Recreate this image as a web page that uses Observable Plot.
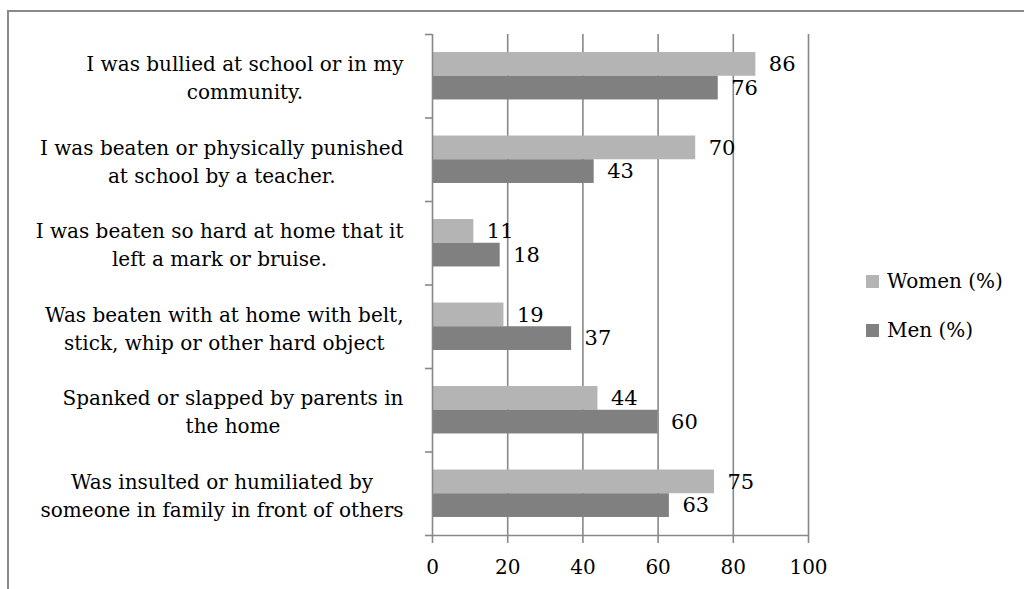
<!DOCTYPE html>
<html>
<head>
<meta charset="utf-8">
<script src="https://cdn.jsdelivr.net/npm/d3@7"></script>
<script src="https://cdn.jsdelivr.net/npm/@observablehq/plot@0.6"></script>
<style>
  html, body { margin: 0; padding: 0; background: #fff; }
  #wrap { position: relative; width: 1024px; height: 589px; overflow: hidden; font-family: 'DejaVu Serif', serif; }
  #frame { position: absolute; left: 7px; top: 10px; width: 1100px; height: 700px; border-left: 2px solid #8a8a8a; border-top: 2px solid #8a8a8a; pointer-events: none; }
  #legend { position: absolute; left: 866px; top: 0; font-size: 20px; color: #000; }
  .item { position: absolute; left: 0; white-space: nowrap; display: flex; align-items: center; }
  .sw { width: 13px; height: 13px; margin-right: 8px; display: inline-block; }
</style>
</head>
<body>
<div id="wrap">
  <div id="chart"></div>
  <div id="frame"></div>
  <div id="legend"></div>
</div>
<script>
const categories = [
  "I was bullied at school or in my\ncommunity.",
  "I was beaten or physically punished\nat school by a teacher.",
  "I was beaten so hard at home that it\nleft a mark or bruise.",
  "Was beaten with at home with belt,\nstick, whip or other hard object",
  "Spanked or slapped by parents in\nthe home",
  "Was insulted or humiliated by\nsomeone in family in front of others"
];
const women = [86, 70, 11, 19, 44, 75];
const men = [76, 43, 18, 37, 60, 63];
const seriesNames = ["Women (%)", "Men (%)"];
const seriesColors = ["#b4b4b4", "#808080"];
const xTicks = [0, 20, 40, 60, 80, 100];

const GRID = "#888888";
const BAR = 0.284;           // bar thickness as fraction of a category band
const FONT = "'DejaVu Serif', serif";

const rows = categories.flatMap((c, i) => [
  {cat: c, i, series: seriesNames[0], value: women[i], k: 0},
  {cat: c, i, series: seriesNames[1], value: men[i], k: 1}
]);

// measure label block widths so each block is right-aligned with centred lines
const ctx = document.createElement("canvas").getContext("2d");
ctx.font = "20px 'DejaVu Serif'";
const blockW = categories.map(c => d3.max(c.split("\n"), s => ctx.measureText(s).width));

const labelMarks = categories.map((c, i) =>
  Plot.text([c], {
    x: 0, y: () => i + 0.5, text: d => d,
    textAnchor: "middle", lineAnchor: "middle", lineHeight: 1.4,
    dx: -(29 + blockW[i] / 2), fontSize: 20, fill: "black"
  })
);

const chart = Plot.plot({
  width: 1024, height: 589,
  marginLeft: 432, marginRight: 216, marginTop: 34, marginBottom: 54,
  style: {fontFamily: FONT, fontSize: "20px", color: "black", background: "transparent", overflow: "visible"},
  x: {domain: [0, 100]},
  y: {domain: [0, categories.length], reverse: true},
  color: {domain: seriesNames, range: seriesColors},
  marks: [
    Plot.ruleX(xTicks.slice(1), {stroke: GRID, strokeWidth: 1.6}),
    Plot.rect(rows, {
      x1: 0, x2: "value",
      y1: d => d.k === 0 ? d.i + 0.5 - BAR : d.i + 0.5,
      y2: d => d.k === 0 ? d.i + 0.5 : d.i + 0.5 + BAR,
      fill: "series"
    }),
    Plot.ruleX([0], {stroke: GRID, strokeWidth: 1.6}),
    Plot.ruleY([categories.length], {stroke: GRID, strokeWidth: 1.6}),
    Plot.axisX({ticks: xTicks, tickSize: 8, tickPadding: 16, stroke: GRID, strokeWidth: 1.6, fill: "black", fontSize: 20, label: null}),
    Plot.axisY({ticks: d3.range(categories.length + 1), tickSize: 7, tickFormat: () => "", stroke: GRID, strokeWidth: 1.6, label: null}),
    Plot.text(rows, {
      x: "value",
      y: d => d.k === 0 ? d.i + 0.5 - BAR / 2 : d.i + 0.5 + BAR / 2,
      text: d => String(d.value),
      textAnchor: "start", dx: 13, fontSize: 21, fill: "black"
    }),
    ...labelMarks
  ]
});
document.getElementById("chart").appendChild(chart);

// legend
const legend = document.getElementById("legend");
const legendY = [281, 330];
seriesNames.forEach((s, j) => {
  const item = document.createElement("div");
  item.className = "item";
  item.style.top = (legendY[j] - 13) + "px";
  item.style.height = "26px";
  const sw = document.createElement("span");
  sw.className = "sw";
  sw.style.background = seriesColors[j];
  const t = document.createElement("span");
  t.textContent = s;
  item.appendChild(sw);
  item.appendChild(t);
  legend.appendChild(item);
});
</script>
</body>
</html>
